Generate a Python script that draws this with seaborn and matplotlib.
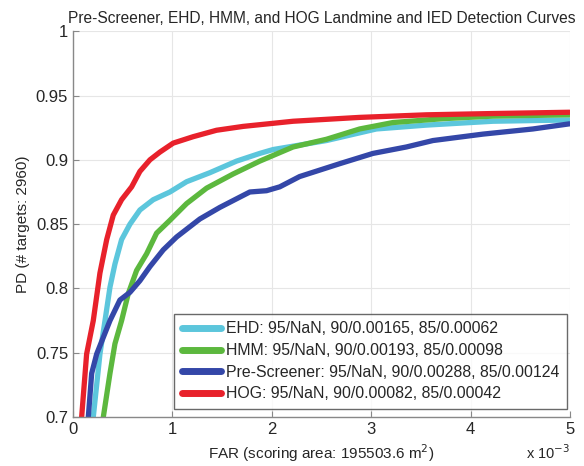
import numpy as np
import pandas as pd
import matplotlib
matplotlib.use('Agg')
import matplotlib.pyplot as plt
import seaborn as sns
from matplotlib.ticker import FormatStrFormatter

# FAR values in units of 1e-3, PD values
ehd_far = [0.204, 0.271, 0.322, 0.372, 0.422, 0.489, 0.573, 0.673, 0.807, 0.975, 1.143, 1.377,
           1.645, 1.879, 2.013, 2.55, 3.052, 3.555, 4.224, 4.995]
ehd_pd = [0.700, 0.749, 0.775, 0.801, 0.819, 0.838, 0.850, 0.861, 0.869, 0.875, 0.883, 0.890,
          0.899, 0.905, 0.908, 0.915, 0.924, 0.927, 0.930, 0.931]

hmm_far = [0.305, 0.372, 0.422, 0.489, 0.556, 0.640, 0.741, 0.841, 0.975, 1.143, 1.344, 1.611,
           1.879, 2.214, 2.55, 2.884, 3.219, 3.722, 4.224, 4.995]
hmm_pd = [0.700, 0.734, 0.757, 0.775, 0.796, 0.814, 0.827, 0.843, 0.853, 0.866, 0.878, 0.889,
          0.899, 0.910, 0.916, 0.924, 0.929, 0.932, 0.934, 0.935]

pre_far = [0.154, 0.188, 0.238, 0.305, 0.372, 0.472, 0.573, 0.673, 0.774, 0.908, 1.042, 1.209,
           1.276, 1.477, 1.678, 1.779, 1.947, 2.080, 2.280, 2.683, 3.018, 3.354, 3.621, 4.124,
           4.626, 4.995]
pre_pd = [0.700, 0.734, 0.749, 0.762, 0.775, 0.791, 0.797, 0.806, 0.817, 0.830, 0.840, 0.850,
          0.854, 0.863, 0.871, 0.875, 0.876, 0.879, 0.887, 0.897, 0.905, 0.910, 0.915, 0.920,
          0.924, 0.928]

hog_far = [0.087, 0.137, 0.204, 0.271, 0.339, 0.405, 0.489, 0.590, 0.673, 0.774, 0.874, 1.008,
           1.209, 1.444, 1.712, 2.214, 2.884, 3.555, 4.224, 4.995]
hog_pd = [0.700, 0.749, 0.775, 0.812, 0.838, 0.857, 0.869, 0.879, 0.891, 0.900, 0.906, 0.913,
          0.918, 0.923, 0.926, 0.930, 0.933, 0.935, 0.936, 0.937]

labels = ['EHD: 95/NaN, 90/0.00165, 85/0.00062',
          'HMM: 95/NaN, 90/0.00193, 85/0.00098',
          'Pre-Screener: 95/NaN, 90/0.00288, 85/0.00124',
          'HOG: 95/NaN, 90/0.00082, 85/0.00042']
colors = ['#5cc6dc', '#5cb83e', '#3447a8', '#e8212b']

frames = []
for lab, fx, fy in zip(labels, [ehd_far, hmm_far, pre_far, hog_far], [ehd_pd, hmm_pd, pre_pd, hog_pd]):
    frames.append(pd.DataFrame({'FAR': fx, 'PD': fy, 'curve': lab}))
df = pd.concat(frames, ignore_index=True)

sns.set_style('whitegrid')
plt.rcParams['font.family'] = ['Liberation Sans', 'DejaVu Sans']

fig = plt.figure(figsize=(5.84, 4.66), dpi=100)
ax = fig.add_axes([0.125, 0.105, 0.851, 0.828])
sns.lineplot(data=df, x='FAR', y='PD', hue='curve', palette=colors, hue_order=labels,
             estimator=None, sort=False, linewidth=3.8, ax=ax)

ax.set_xlim(0, 5)
ax.set_ylim(0.7, 1.0)
ax.set_xticks([0, 1, 2, 3, 4, 5])
ax.set_yticks([0.7, 0.75, 0.8, 0.85, 0.9, 0.95, 1.0])
ax.yaxis.set_major_formatter(FormatStrFormatter('%g'))
ax.tick_params(labelsize=12, direction='in', length=4, color='#888888', left=True, bottom=True)
ax.grid(color='#e6e6e6', linewidth=0.8)
for s in ['top', 'right']:
    ax.spines[s].set_visible(False)
for s in ['left', 'bottom']:
    ax.spines[s].set_color('#888888')
    ax.spines[s].set_linewidth(1.0)

ax.set_title('Pre-Screener, EHD, HMM, and HOG Landmine and IED Detection Curves', fontsize=11.2, pad=6)
ax.set_xlabel('FAR (scoring area: 195503.6 m$^2$)', fontsize=11)
ax.set_ylabel('PD (# targets: 2960)', fontsize=11)
ax.text(0.955, -0.092, 'x 10$^{-3}$', transform=ax.transAxes, fontsize=10.5, ha='center', va='center')

leg = ax.legend(loc='lower right', fontsize=11.4, handlelength=2.5, frameon=True, fancybox=False,
                bbox_to_anchor=(0.995, 0.02), borderaxespad=0.0, labelspacing=0.42,
                handletextpad=0.3, borderpad=0.5)
leg.get_frame().set_edgecolor('#444444')
leg.get_frame().set_linewidth(1.0)
for ln in leg.get_lines():
    ln.set_linewidth(5)

fig.savefig('out.png', dpi=100)
